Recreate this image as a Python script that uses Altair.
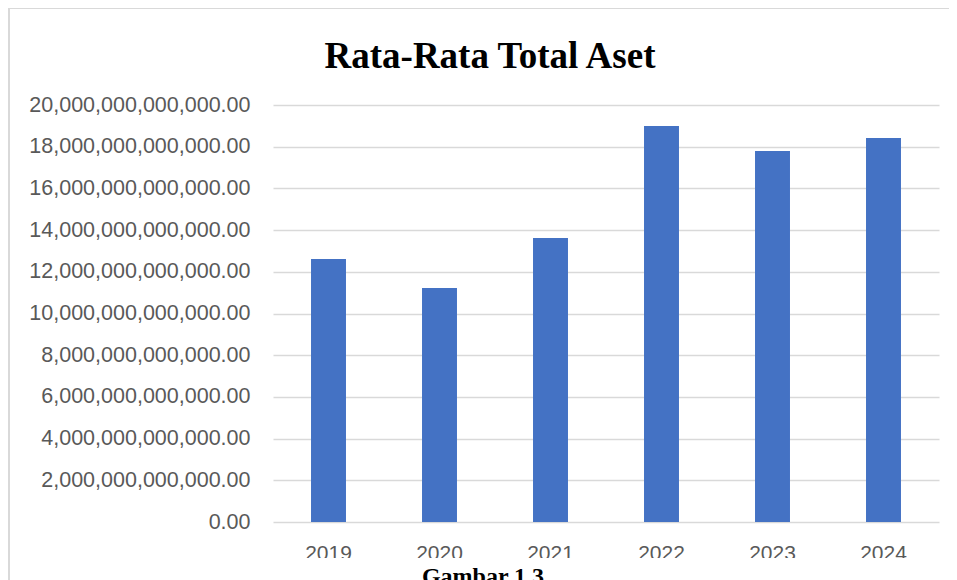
import altair as alt
import pandas as pd

years = ["2019", "2020", "2021", "2022", "2023", "2024"]
values = [12.61e12, 11.22e12, 13.62e12, 18.99e12, 17.79e12, 18.42e12]
y_ticks = [i * 2e12 for i in range(11)]
title_text = "Rata-Rata Total Aset"
caption_text = "Gambar 1.3"

df = pd.DataFrame({"Tahun": years, "Nilai": values})

W, H = 666, 417
PL, PT, PR, PB = 265, 97, 10, 58

bars = alt.Chart(df).mark_bar(color="#4472C4").encode(
    x=alt.X("Tahun:N", sort=years,
            scale=alt.Scale(paddingInner=0.685, paddingOuter=0.3425),
            axis=alt.Axis(title=None, labelAngle=0, domain=False, ticks=False,
                          labelFont="Liberation Sans", labelFontSize=21,
                          labelColor="#595959", labelPadding=20, grid=False, zindex=0)),
    y=alt.Y("Nilai:Q", scale=alt.Scale(domain=[0, 20e12], nice=False),
            axis=alt.Axis(title=None, values=y_ticks, format=",.2f", domain=False,
                          ticks=False, labelFont="Liberation Sans", labelFontSize=21.5,
                          labelColor="#595959", labelPadding=23, labelLimit=0,
                          gridColor="#d9d9d9", gridWidth=1.5, zindex=0)),
)

one = alt.Data(values=[{}])

cover = alt.Chart(one).mark_rect(color="white").encode(
    x=alt.value(-258), x2=alt.value(W + 40),
    y=alt.value(453), y2=alt.value(500),
)

caption = alt.Chart(one).mark_text(
    text=caption_text, font="Liberation Serif", fontWeight="bold", fontSize=24,
    color="black", align="center", baseline="alphabetic",
).encode(x=alt.value(210), y=alt.value(479))

title = alt.Chart(one).mark_text(
    text=title_text, font="Liberation Serif", fontWeight="bold", fontSize=37,
    color="black", align="center", baseline="alphabetic",
).encode(x=alt.value(217), y=alt.value(-37))

frame = alt.Chart(one).mark_rect(fill=None, stroke="#d9d9d9", strokeWidth=2).encode(
    x=alt.value(-264), x2=alt.value(W + 200),
    y=alt.value(-97), y2=alt.value(H + 200),
)

chart = alt.layer(bars, cover, caption, title, frame).properties(
    width=W, height=H,
    padding={"left": PL, "top": PT, "right": PR, "bottom": PB},
    autosize=alt.AutoSizeParams(type="none"),
).configure_view(stroke=None)

chart.save("out.html", embed_options={"renderer": "svg", "actions": False})
